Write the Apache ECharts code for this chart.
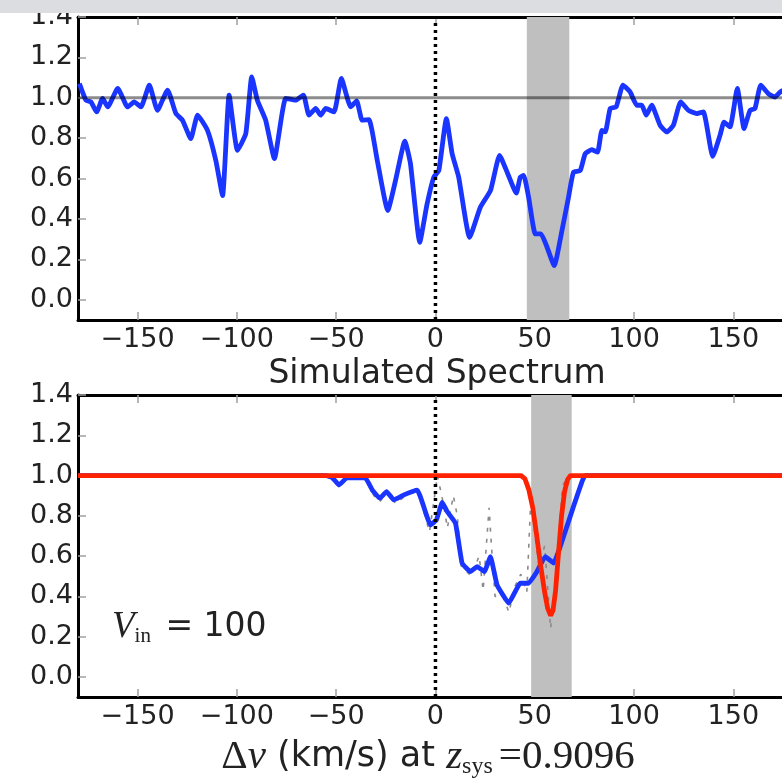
<!DOCTYPE html>
<html><head><meta charset="utf-8">
<script src="https://cdn.jsdelivr.net/npm/echarts@6/dist/echarts.min.js"></script>
<style>html,body{margin:0;padding:0;background:#fff}#c{width:782px;height:779px}</style>
</head><body><div id="c"></div>
<script>
// ---- data ----
const xTicks = [-150, -100, -50, 0, 50, 100, 150];
const yTicks = [0.0, 0.2, 0.4, 0.6, 0.8, 1.0, 1.2, 1.4];

// upper panel: observed spectrum
const obsVel = [-179.3,-176,-173.5,-170.6,-167.6,-165,-160,-155,-151.7,-148.3,
  -144.1,-140,-134.9,-130.7,-127.4,-123.2,-119.8,-114.8,-110.6,-107.2,
  -103.9,-99.7,-95.5,-92.5,-89.7,-85.5,-81.1,-75.4,-70.4,-66.5,
  -63.7,-60.3,-57.8,-55.3,-51.1,-47.4,-42.7,-39.7,-36.9,-33.5,
  -29.3,-24,-20.1,-15.4,-12.6,-7.9,-4.2,-0.85,1.7,5.5,
  8.4,11.7,17.2,22.6,27.7,32.3,36.4,40.7,42.7,44.4,
  46.9,50.3,53.1,56.2,59.8,63.7,67,69.5,72.9,75.4,
  78.8,81.6,83.8,85.5,88,91,94.4,98,101.4,103.9,
  106.1,108.9,113.1,116.5,119.8,123.5,127.4,131.6,134.9,139.6,
  143.3,145.3,148.3,152,155.4,158.4,160.9,163.8,167.6,170.9,
  174.3,177,180];
const obsFlux = [1.07,0.988,0.98,0.93,0.997,0.955,1.046,0.955,0.98,0.955,
  1.063,0.938,1.038,0.922,0.889,0.798,0.914,0.839,0.69,0.516,
  1.013,0.74,0.823,1.104,0.988,0.889,0.699,0.997,0.988,1.013,
  0.914,0.947,0.914,0.947,0.93,1.096,0.955,0.985,0.889,0.892,
  0.69,0.442,0.591,0.786,0.674,0.285,0.475,0.607,0.64,0.897,
  0.723,0.607,0.309,0.458,0.541,0.715,0.624,0.528,0.607,0.616,
  0.508,0.326,0.326,0.26,0.169,0.343,0.508,0.632,0.64,0.723,
  0.743,0.731,0.839,0.831,0.947,0.955,1.063,1.029,0.963,0.963,
  0.914,0.963,0.864,0.831,0.864,0.98,0.938,0.922,0.93,0.71,
  0.814,0.88,0.856,1.046,0.848,0.938,0.947,1.063,1.021,1.004,
  1.034,1.01,1.0];

// lower panel: simulated spectrum
const simVel = [-180,-55,-52,-48.6,-44.4,-35.2,-31.8,-28,-24.6,-21,-15.9,-9.2,
  -2.5,0.5,3.4,5.9,10.1,13.4,17.6,21,24.6,27.7,31,36.9,42.7,46.9,51.1,55.3,
  59.5,64.5,69.5,73.8,75.4,180];
const simFlux = [1,1,0.99,0.953,0.99,0.987,0.928,0.887,0.92,0.879,0.904,0.928,
  0.755,0.78,0.866,0.821,0.763,0.565,0.523,0.548,0.523,0.597,0.457,0.366,0.465,0.465,0.523,0.597,
  0.565,0.697,0.846,0.97,1.0,1.0];

// lower panel: noisy points (gray dashes)
const noiseVel = [-52,-48,-44,-35,-31,-28,-24,-20,-15,-9,-3,1,4,6,9,11,13,18,22,24,27,28,30,34,37,40,43,46,48,52,55,58,61,64,67,72];
const noiseFlux = [0.98,0.95,0.99,0.98,0.90,0.87,0.92,0.86,0.90,0.93,0.72,1.0,0.86,0.74,0.90,0.80,0.55,0.50,0.60,0.43,0.84,0.68,0.40,0.40,0.32,0.45,0.51,0.42,0.88,0.55,0.65,0.24,0.55,0.95,1.0,1.0];

// lower panel: model (red)
const modelVel = [-180,43,45,47,49,51,53,55,56.5,58,59.2,60.5,62,63.5,65,66.5,68,180];
const modelFlux = [1,1,0.985,0.93,0.84,0.70,0.55,0.42,0.34,0.305,0.33,0.43,0.62,0.80,0.92,0.98,1,1];

const bandTop = [46, 67.4];
const bandBottom = [48.2, 68.6];
const continuumVel = [-180, 180];
const continuumFlux = [1.0, 1.0];
const zeroVel = [0, 0];
const zeroFlux = [-0.1, 1.4];

const zip = (a, b) => a.map((v, i) => [v, b[i]]);

// ---- chart ----
const TICK_FONT = 27;
const X_MIN = -180, X_MAX = 174.5; // visible part of the axis (the figure is cropped on the right)
function xAx(grid, pos, labels) {
  return {
    type: 'value', gridIndex: grid, position: pos, min: X_MIN, max: X_MAX,
    axisLine: { show: true, onZero: false, lineStyle: { color: '#000', width: 3 } },
    axisTick: { show: true, inside: true, length: 8, customValues: xTicks, lineStyle: { color: '#a0a0a0', width: 1.5 } },
    axisLabel: { show: labels, customValues: xTicks, formatter: v => String(v).replace('-', '\u2212'),
      fontSize: TICK_FONT, color: '#222', fontFamily: 'DejaVu Sans', margin: 6 },
    splitLine: { show: false }
  };
}
function yAx(grid) {
  return {
    type: 'value', gridIndex: grid, min: -0.1, max: 1.4,
    axisLine: { show: true, onZero: false, lineStyle: { color: '#000', width: 3 } },
    axisTick: { show: true, inside: true, length: 8, customValues: yTicks, lineStyle: { color: '#a0a0a0', width: 1.5 } },
    axisLabel: { customValues: yTicks, formatter: v => v.toFixed(1),
      fontSize: TICK_FONT, color: '#222', fontFamily: 'DejaVu Sans', margin: 5 },
    splitLine: { show: false }
  };
}

const chart = echarts.init(document.getElementById('c'), null, { renderer: 'canvas' });
const serif = 'Liberation Serif';
const option = {
  animation: false,
  backgroundColor: '#fff',
  grid: [
    { left: 78, top: 17, width: 704, height: 303 },
    { left: 78, top: 395, width: 704, height: 302 }
  ],
  xAxis: [xAx(0, 'bottom', true), xAx(0, 'top', false), xAx(1, 'bottom', true), xAx(1, 'top', false)],
  yAxis: [yAx(0), yAx(1)],
  series: [
    { type: 'line', xAxisIndex: 0, yAxisIndex: 0, data: [], silent: true,
      markArea: { silent: true, itemStyle: { color: '#bfbfbf' }, data: [[{ xAxis: bandTop[0] }, { xAxis: bandTop[1] }]] } },
    { type: 'line', xAxisIndex: 0, yAxisIndex: 0, data: zip(obsVel, obsFlux), showSymbol: false, smooth: 0.15,
      lineStyle: { color: '#1a35ff', width: 4.8 }, z: 3 },
    { type: 'line', xAxisIndex: 0, yAxisIndex: 0, data: zip(continuumVel, continuumFlux), showSymbol: false,
      lineStyle: { color: 'rgba(0,0,0,0.45)', width: 3 }, z: 4 },
    { type: 'line', xAxisIndex: 0, yAxisIndex: 0, data: zip(zeroVel, zeroFlux), showSymbol: false,
      lineStyle: { color: '#000', width: 3.5, type: [3, 4] }, z: 5 },

    { type: 'line', xAxisIndex: 2, yAxisIndex: 1, data: [], silent: true,
      markArea: { silent: true, itemStyle: { color: '#bfbfbf' }, data: [[{ xAxis: bandBottom[0] }, { xAxis: bandBottom[1] }]] } },
    { type: 'line', xAxisIndex: 2, yAxisIndex: 1, data: zip(noiseVel, noiseFlux), showSymbol: false,
      lineStyle: { color: '#8a8a8a', width: 1.6, type: [4, 7] }, z: 2 },
    { type: 'line', xAxisIndex: 2, yAxisIndex: 1, data: zip(simVel, simFlux), showSymbol: false, smooth: 0.1,
      lineStyle: { color: '#1a35ff', width: 4.8 }, z: 3 },
    { type: 'line', xAxisIndex: 2, yAxisIndex: 1, data: zip(modelVel, modelFlux), showSymbol: false,
      lineStyle: { color: '#ff2200', width: 4.8 }, z: 4 },
    { type: 'line', xAxisIndex: 2, yAxisIndex: 1, data: zip(zeroVel, zeroFlux), showSymbol: false,
      lineStyle: { color: '#000', width: 3.5, type: [3, 4] }, z: 5 }
  ],
  graphic: [
    { type: 'rect', shape: { x: 0, y: 0, width: 782, height: 13 }, style: { fill: '#dcdde0' }, z: 100 },
    { type: 'text', x: 437, y: 374, z: 50,
      style: { text: 'Simulated Spectrum', fontSize: 33, fontFamily: 'DejaVu Sans', fill: '#222',
        align: 'center', verticalAlign: 'middle', textAlign: 'center', textVerticalAlign: 'middle' } },
    { type: 'text', x: 428, y: 757, z: 50,
      style: {
        text: '{d|Δ}{v|v}{s| (km/s) at }{v|z}{sub|sys}{d|=0.9096}',
        align: 'center', verticalAlign: 'middle', textAlign: 'center', textVerticalAlign: 'middle',
        rich: {
          d: { fontFamily: serif, fontSize: 41, lineHeight: 44, fill: '#222' },
          v: { fontFamily: serif, fontStyle: 'italic', fontSize: 41, lineHeight: 44, fill: '#222' },
          s: { fontFamily: 'DejaVu Sans', fontSize: 35, lineHeight: 44, fill: '#222' },
          sub: { fontFamily: serif, fontSize: 24, lineHeight: 24, padding: [20, 6, 0, 0], fill: '#222' }
        }
      } },
    { type: 'text', x: 112, y: 627, z: 50,
      style: {
        text: '{v|V}{sub|in}{s| = 100}',
        align: 'left', verticalAlign: 'middle', textAlign: 'left', textVerticalAlign: 'middle',
        rich: {
          v: { fontFamily: serif, fontStyle: 'italic', fontSize: 37, lineHeight: 40, fill: '#222' },
          sub: { fontFamily: serif, fontSize: 21, lineHeight: 21, padding: [18, 0, 0, 0], fill: '#222' },
          s: { fontFamily: 'DejaVu Sans', fontSize: 33, lineHeight: 40, padding: [0, 0, 0, 4], fill: '#222' }
        }
      } }
  ]
};
chart.setOption(option);
</script>
</body></html>
